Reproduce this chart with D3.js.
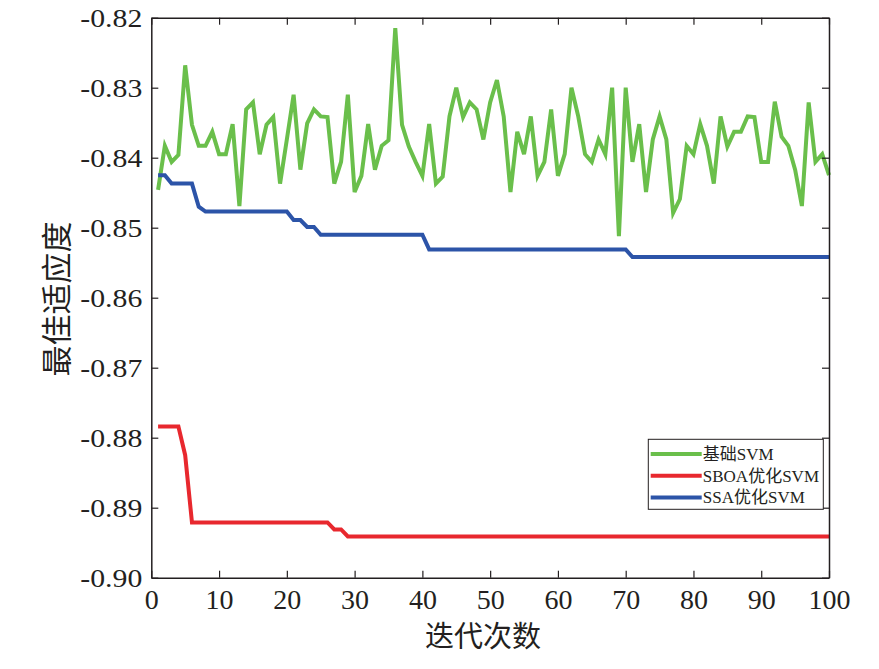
<!DOCTYPE html>
<html>
<head>
<meta charset="utf-8">
<script src="https://cdn.jsdelivr.net/npm/d3@7"></script>
<style>
    body { margin: 0; background: #fff; }
</style>
</head>
<body>
<svg id="drawing_region"></svg>
<script>
// series values, iteration 1..100
const basicSvm = [
    -0.8446, -0.8383, -0.8406, -0.8396, -0.8268, -0.8353, -0.8383, -0.8383, -0.8363, -0.8395,
    -0.8395, -0.8352, -0.8469, -0.8331, -0.8321, -0.8395, -0.8353, -0.8342, -0.8437, -0.8374,
    -0.8310, -0.8417, -0.8351, -0.8331, -0.8341, -0.8342, -0.8437, -0.8406, -0.8310, -0.8449,
    -0.8426, -0.8352, -0.8417, -0.8383, -0.8375, -0.8215, -0.8353, -0.8384, -0.8406, -0.8426,
    -0.8352, -0.8437, -0.8427, -0.8341, -0.8300, -0.8342, -0.8321, -0.8331, -0.8374, -0.8321,
    -0.8289, -0.8341, -0.8449, -0.8363, -0.8395, -0.8341, -0.8426, -0.8406, -0.8331, -0.8426,
    -0.8395, -0.8300, -0.8341, -0.8395, -0.8406, -0.8374, -0.8395, -0.8300, -0.8512, -0.8300,
    -0.8406, -0.8352, -0.8449, -0.8374, -0.8341, -0.8374, -0.8479, -0.8459, -0.8383, -0.8395,
    -0.8352, -0.8383, -0.8437, -0.8341, -0.8384, -0.8363, -0.8363, -0.8341, -0.8342, -0.8406,
    -0.8406, -0.8320, -0.8370, -0.8383, -0.8417, -0.8469, -0.8321, -0.8406, -0.8395, -0.8425
];

const sboaSvm = [
    -0.8784, -0.8784, -0.8784, -0.8784, -0.8825, -0.8921, -0.8921, -0.8921, -0.8921, -0.8921,
    -0.8921, -0.8921, -0.8921, -0.8921, -0.8921, -0.8921, -0.8921, -0.8921, -0.8921, -0.8921,
    -0.8921, -0.8921, -0.8921, -0.8921, -0.8921, -0.8921, -0.8931, -0.8931, -0.8941, -0.8941,
    -0.8941, -0.8941, -0.8941, -0.8941, -0.8941, -0.8941, -0.8941, -0.8941, -0.8941, -0.8941,
    -0.8941, -0.8941, -0.8941, -0.8941, -0.8941, -0.8941, -0.8941, -0.8941, -0.8941, -0.8941,
    -0.8941, -0.8941, -0.8941, -0.8941, -0.8941, -0.8941, -0.8941, -0.8941, -0.8941, -0.8941,
    -0.8941, -0.8941, -0.8941, -0.8941, -0.8941, -0.8941, -0.8941, -0.8941, -0.8941, -0.8941,
    -0.8941, -0.8941, -0.8941, -0.8941, -0.8941, -0.8941, -0.8941, -0.8941, -0.8941, -0.8941,
    -0.8941, -0.8941, -0.8941, -0.8941, -0.8941, -0.8941, -0.8941, -0.8941, -0.8941, -0.8941,
    -0.8941, -0.8941, -0.8941, -0.8941, -0.8941, -0.8941, -0.8941, -0.8941, -0.8941, -0.8941
];

const ssaSvm = [
    -0.8425, -0.8425, -0.8437, -0.8437, -0.8437, -0.8437, -0.8470, -0.8477, -0.8477, -0.8477,
    -0.8477, -0.8477, -0.8477, -0.8477, -0.8477, -0.8477, -0.8477, -0.8477, -0.8477, -0.8477,
    -0.8489, -0.8489, -0.8499, -0.8499, -0.8510, -0.8510, -0.8510, -0.8510, -0.8510, -0.8510,
    -0.8510, -0.8510, -0.8510, -0.8510, -0.8510, -0.8510, -0.8510, -0.8510, -0.8510, -0.8510,
    -0.8531, -0.8531, -0.8531, -0.8531, -0.8531, -0.8531, -0.8531, -0.8531, -0.8531, -0.8531,
    -0.8531, -0.8531, -0.8531, -0.8531, -0.8531, -0.8531, -0.8531, -0.8531, -0.8531, -0.8531,
    -0.8531, -0.8531, -0.8531, -0.8531, -0.8531, -0.8531, -0.8531, -0.8531, -0.8531, -0.8531,
    -0.8542, -0.8542, -0.8542, -0.8542, -0.8542, -0.8542, -0.8542, -0.8542, -0.8542, -0.8542,
    -0.8542, -0.8542, -0.8542, -0.8542, -0.8542, -0.8542, -0.8542, -0.8542, -0.8542, -0.8542,
    -0.8542, -0.8542, -0.8542, -0.8542, -0.8542, -0.8542, -0.8542, -0.8542, -0.8542, -0.8542
];

const seriesNames = ['基础SVM', 'SBOA优化SVM', 'SSA优化SVM'];
const seriesColors = ['#6abf4b', '#e8282e', '#2c54a8'];

const xTicks = [0, 10, 20, 30, 40, 50, 60, 70, 80, 90, 100];
const yTicks = [-0.90, -0.89, -0.88, -0.87, -0.86, -0.85, -0.84, -0.83, -0.82];

const xTitle = '迭代次数';
const yTitle = '最佳适应度';

var config = {
    parent: '#drawing_region',
    width: 879,
    height: 669,
    margin: { top: 17.7, right: 50, bottom: 91.3, left: 151.3 },
};

class LineChart {
    constructor(config, series) {
        this.config = config;
        this.series = series;
        this.init();
    }

    init() {
        let self = this;
        self.inner_width = self.config.width - self.config.margin.left - self.config.margin.right;
        self.inner_height = self.config.height - self.config.margin.top - self.config.margin.bottom;

        self.svg = d3.select(self.config.parent)
            .attr('width', self.config.width)
            .attr('height', self.config.height);

        self.chart = self.svg.append('g')
            .attr('transform', `translate(${self.config.margin.left}, ${self.config.margin.top})`);

        self.xscale = d3.scaleLinear()
            .domain([xTicks[0], xTicks[xTicks.length - 1]])
            .range([0, self.inner_width]);

        self.yscale = d3.scaleLinear()
            .domain([yTicks[0], yTicks[yTicks.length - 1]])
            .range([self.inner_height, 0]);

        self.line = d3.line()
            .x((d, i) => self.xscale(i + 1))
            .y(d => self.yscale(d));
    }

    render() {
        let self = this;
        const ink = '#231f20';
        const serif = '"Liberation Serif", "Times New Roman", "Noto Sans CJK SC", serif';
        const cjk = '"Noto Sans CJK SC", "Liberation Serif", serif';

        // Draw lines
        self.chart.selectAll('.series')
            .data(self.series)
            .enter()
            .append('path')
            .attr('class', 'series')
            .attr('d', d => self.line(d.values))
            .attr('fill', 'none')
            .attr('stroke', d => d.color)
            .attr('stroke-width', 4)
            .attr('stroke-linejoin', 'miter');

        // Box axes with inner ticks
        const tick = 7;
        const bottom = self.chart.append('g')
            .attr('transform', `translate(0, ${self.inner_height})`)
            .call(d3.axisBottom(self.xscale).tickValues(xTicks).tickSize(-tick).tickSizeOuter(0).tickFormat(d => d));
        const top = self.chart.append('g')
            .call(d3.axisTop(self.xscale).tickValues(xTicks).tickSize(-tick).tickSizeOuter(0).tickFormat(''));
        const left = self.chart.append('g')
            .call(d3.axisLeft(self.yscale).tickValues(yTicks).tickSize(-tick).tickSizeOuter(0).tickFormat(d => d.toFixed(2)));
        const right = self.chart.append('g')
            .attr('transform', `translate(${self.inner_width}, 0)`)
            .call(d3.axisRight(self.yscale).tickValues(yTicks).tickSize(-tick).tickSizeOuter(0).tickFormat(''));

        [bottom, top, left, right].forEach(g => {
            g.select('.domain').attr('stroke', ink).attr('stroke-width', 1.5);
            g.selectAll('.tick line').attr('stroke', ink).attr('stroke-width', 1.2);
        });

        bottom.selectAll('.tick text')
            .attr('y', 31)
            .attr('dy', 0)
            .attr('fill', ink)
            .style('font-family', serif)
            .style('font-size', '28px');

        left.selectAll('.tick text')
            .attr('x', -9)
            .attr('dy', '0.35em')
            .attr('fill', ink)
            .attr('textLength', 62)
            .attr('lengthAdjust', 'spacingAndGlyphs')
            .style('font-family', serif)
            .style('font-size', '25px');

        // Axis titles
        self.svg.append('text')
            .attr('x', 483)
            .attr('y', 637)
            .attr('dy', '0.35em')
            .attr('text-anchor', 'middle')
            .attr('fill', ink)
            .style('font-family', cjk)
            .style('font-size', '29px')
            .text(xTitle);

        self.svg.append('text')
            .attr('transform', 'translate(57, 299) rotate(-90)')
            .attr('dy', '0.35em')
            .attr('text-anchor', 'middle')
            .attr('fill', ink)
            .style('font-family', cjk)
            .style('font-size', '31px')
            .text(yTitle);

        // Legend
        const legend = self.svg.append('g')
            .attr('transform', 'translate(648.3, 439.3)');

        legend.append('rect')
            .attr('width', 175)
            .attr('height', 70)
            .attr('fill', '#fff')
            .attr('stroke', ink)
            .attr('stroke-width', 1);

        const items = legend.selectAll('.item')
            .data(self.series)
            .enter()
            .append('g')
            .attr('class', 'item')
            .attr('transform', (d, i) => `translate(0, ${14.7 + i * 21.7})`);

        items.append('line')
            .attr('x1', 2.4)
            .attr('x2', 53.4)
            .attr('stroke', d => d.color)
            .attr('stroke-width', 4);

        items.append('text')
            .attr('x', 54.5)
            .attr('dy', '0.35em')
            .attr('fill', ink)
            .style('font-family', serif)
            .style('font-size', '17px')
            .text(d => d.name);
    }
}

const series = [basicSvm, sboaSvm, ssaSvm].map((values, i) => ({
    name: seriesNames[i],
    color: seriesColors[i],
    values: values
}));

let chart = new LineChart(config, series);
chart.render();
</script>
</body>
</html>
